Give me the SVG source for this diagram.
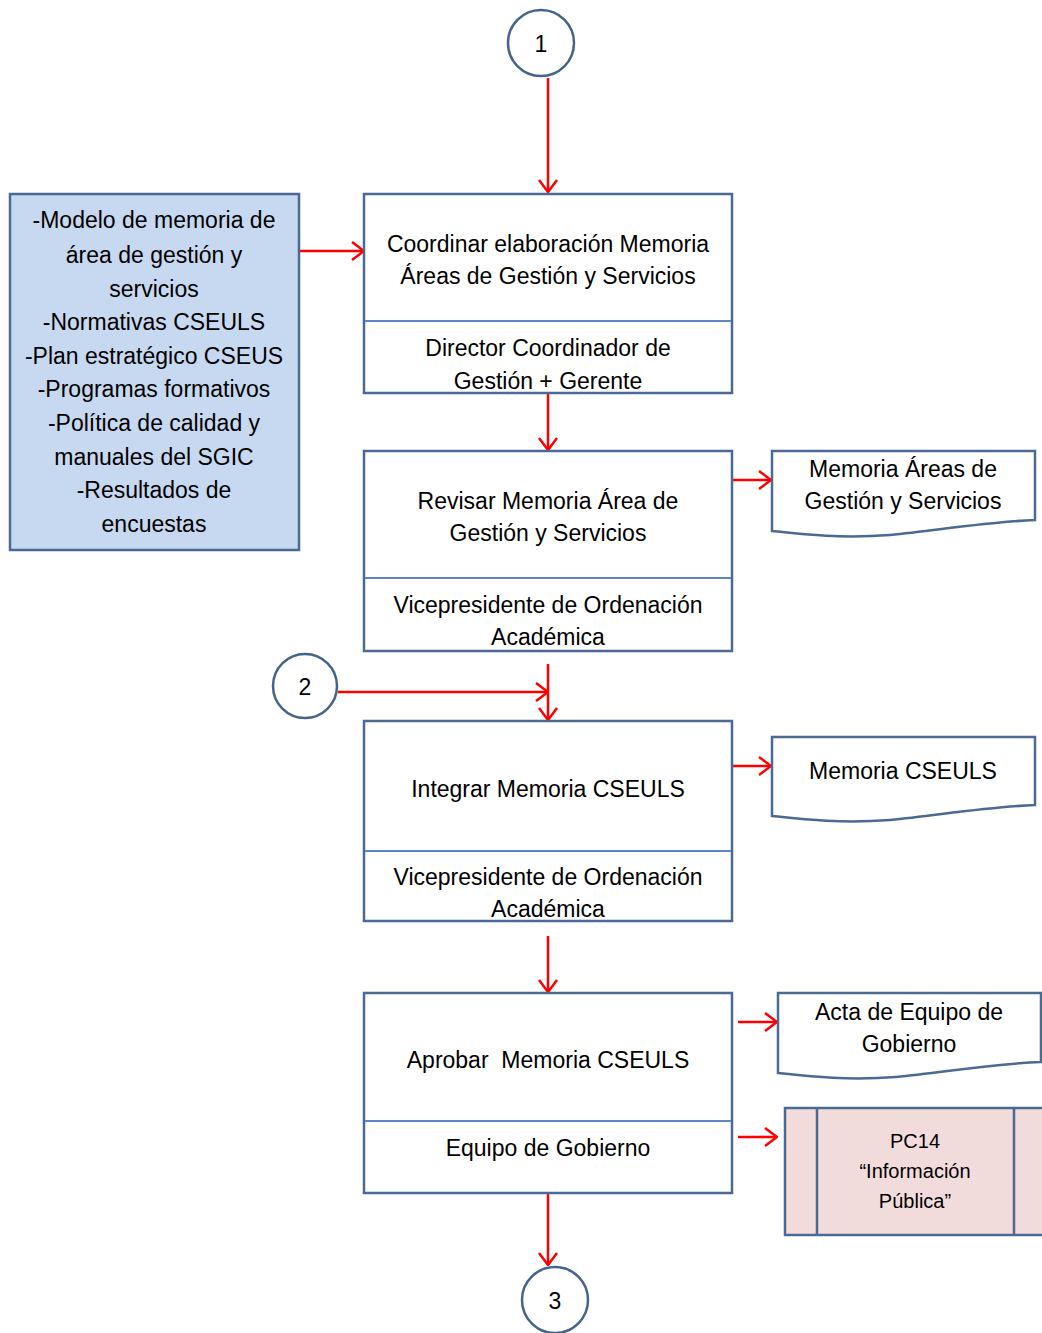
<svg xmlns="http://www.w3.org/2000/svg" width="1042" height="1333" viewBox="0 0 1042 1333">
<style>
.box{fill:#ffffff;stroke:#4a6a94;stroke-width:2.5}
.inp{fill:#c6d9f1;stroke:#4a6a94;stroke-width:2.5}
.pc{fill:#f2dcdb;stroke:#4a6a94;stroke-width:2.5}
.div{stroke:#5b87c5;stroke-width:2}
.circ{fill:#ffffff;stroke:#44648e;stroke-width:2.5}
.t{font-family:"Liberation Sans",Arial,sans-serif;font-size:23px;fill:#000;text-anchor:middle}
.ts{font-family:"Liberation Sans",Arial,sans-serif;font-size:20px;fill:#000;text-anchor:middle}
.c{stroke:#ff0000;stroke-width:2.5;fill:none}
</style>
<defs>
<marker id="ah" markerUnits="userSpaceOnUse" viewBox="0 0 14 20" refX="13" refY="10" markerWidth="14" markerHeight="20" orient="auto">
<path d="M1,1 L13,10 L1,19" fill="none" stroke="#ff0000" stroke-width="2.5"/>
</marker>
</defs>

<g id="connectors">
<line class="c" x1="548" y1="78" x2="548" y2="192" marker-end="url(#ah)"/>
<line class="c" x1="300" y1="251" x2="364" y2="251" marker-end="url(#ah)"/>
<line class="c" x1="548" y1="394" x2="548" y2="450" marker-end="url(#ah)"/>
<line class="c" x1="732" y1="480" x2="771" y2="480" marker-end="url(#ah)"/>
<line class="c" x1="338" y1="692" x2="548" y2="692" marker-end="url(#ah)"/>
<line class="c" x1="548" y1="664" x2="548" y2="720" marker-end="url(#ah)"/>
<line class="c" x1="732" y1="766" x2="771" y2="766" marker-end="url(#ah)"/>
<line class="c" x1="548" y1="936" x2="548" y2="992" marker-end="url(#ah)"/>
<line class="c" x1="738" y1="1022" x2="777" y2="1022" marker-end="url(#ah)"/>
<line class="c" x1="738" y1="1137" x2="777" y2="1137" marker-end="url(#ah)"/>
<line class="c" x1="548" y1="1194" x2="548" y2="1265" marker-end="url(#ah)"/>
</g>

<g id="c1">
<circle class="circ" cx="541" cy="43" r="33"/>
<text class="t" x="541" y="52">1</text>
</g>

<g id="inputs">
<rect class="inp" x="10" y="194" width="289" height="356"/>
<text class="t" x="154" y="228">-Modelo de memoria de</text>
<text class="t" x="154" y="263">área de gestión y</text>
<text class="t" x="154" y="297">servicios</text>
<text class="t" x="154" y="330">-Normativas CSEULS</text>
<text class="t" x="154" y="364">-Plan estratégico CSEUS</text>
<text class="t" x="154" y="397">-Programas formativos</text>
<text class="t" x="154" y="431">-Política de calidad y</text>
<text class="t" x="154" y="465">manuales del SGIC</text>
<text class="t" x="154" y="498">-Resultados de</text>
<text class="t" x="154" y="532">encuestas</text>
</g>

<g id="n1">
<rect class="box" x="364" y="194" width="368" height="199"/>
<line class="div" x1="365" y1="321" x2="731" y2="321"/>
<text class="t" x="548" y="252">Coordinar elaboración Memoria</text>
<text class="t" x="548" y="284">Áreas de Gestión y Servicios</text>
<text class="t" x="548" y="356">Director Coordinador de</text>
<text class="t" x="548" y="389">Gestión + Gerente</text>
</g>

<g id="n2">
<rect class="box" x="364" y="451" width="368" height="200"/>
<line class="div" x1="365" y1="578" x2="731" y2="578"/>
<text class="t" x="548" y="509">Revisar Memoria Área de</text>
<text class="t" x="548" y="541">Gestión y Servicios</text>
<text class="t" x="548" y="613">Vicepresidente de Ordenación</text>
<text class="t" x="548" y="645">Académica</text>
</g>

<g id="d1">
<path class="box" d="M772,451 H1035 V520 C985,522 940,530 890,535 C840,539 800,534 772,531 Z"/>
<text class="t" x="903" y="477">Memoria Áreas de</text>
<text class="t" x="903" y="509">Gestión y Servicios</text>
</g>

<g id="c2">
<circle class="circ" cx="305" cy="686" r="32"/>
<text class="t" x="305" y="695">2</text>
</g>

<g id="n3">
<rect class="box" x="364" y="721" width="368" height="200"/>
<line class="div" x1="365" y1="851" x2="731" y2="851"/>
<text class="t" x="548" y="797">Integrar Memoria CSEULS</text>
<text class="t" x="548" y="885">Vicepresidente de Ordenación</text>
<text class="t" x="548" y="917">Académica</text>
</g>

<g id="d2">
<path class="box" d="M772,737 H1035 V805 C985,807 940,815 890,820 C840,824 800,819 772,816 Z"/>
<text class="t" x="903" y="779">Memoria CSEULS</text>
</g>

<g id="n4">
<rect class="box" x="364" y="993" width="368" height="200"/>
<line class="div" x1="365" y1="1121" x2="731" y2="1121"/>
<text class="t" x="548" y="1068">Aprobar&#160; Memoria CSEULS</text>
<text class="t" x="548" y="1156">Equipo de Gobierno</text>
</g>

<g id="d3">
<path class="box" d="M778,993 H1041 V1062 C991,1064 946,1072 896,1077 C846,1081 806,1076 778,1073 Z"/>
<text class="t" x="909" y="1020">Acta de Equipo de</text>
<text class="t" x="909" y="1052">Gobierno</text>
</g>

<g id="pc14">
<rect class="pc" x="785" y="1108" width="270" height="127"/>
<line x1="817" y1="1108" x2="817" y2="1235" stroke="#4a6a94" stroke-width="2.5"/>
<line x1="1014" y1="1108" x2="1014" y2="1235" stroke="#4a6a94" stroke-width="2.5"/>
<text class="ts" x="915" y="1148">PC14</text>
<text class="ts" x="915" y="1178">“Información</text>
<text class="ts" x="915" y="1208">Pública”</text>
</g>

<g id="c3">
<circle class="circ" cx="555" cy="1300" r="33"/>
<text class="t" x="555" y="1309">3</text>
</g>
</svg>
